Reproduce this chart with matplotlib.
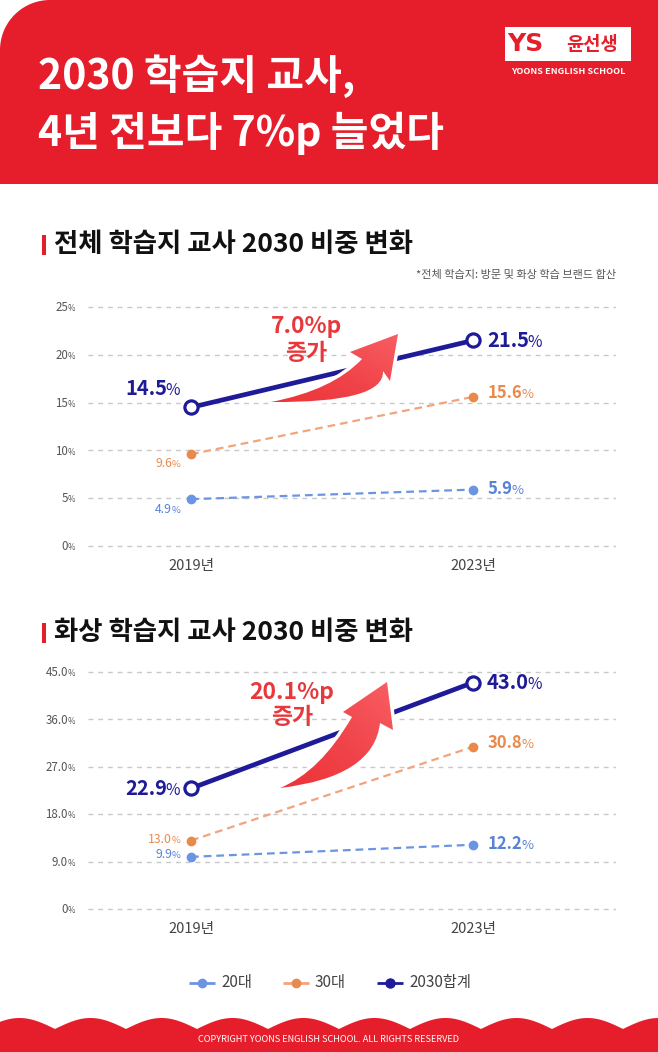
import matplotlib
matplotlib.use('Agg')
import matplotlib.pyplot as plt
import numpy as np
from matplotlib.path import Path
from matplotlib.patches import PathPatch, Rectangle
from matplotlib.colors import LinearSegmentedColormap

plt.rcParams['font.family'] = ['Noto Sans CJK KR', 'DejaVu Sans']

# ---------------- data ----------------
years = ['2019년', '2023년']
series_names = ['20대', '30대', '2030합계']

total_20s = [4.9, 5.9]
total_30s = [9.6, 15.6]
total_sum = [14.5, 21.5]
total_ticks = [0, 5, 10, 15, 20, 25]
total_tick_labels = ['0', '5', '10', '15', '20', '25']
total_increase = '7.0%p'

online_20s = [9.9, 12.2]
online_30s = [13.0, 30.8]
online_sum = [22.9, 43.0]
online_ticks = [0, 9, 18, 27, 36, 45]
online_tick_labels = ['0', '9.0', '18.0', '27.0', '36.0', '45.0']
online_increase = '20.1%p'

title_lines = ['2030 학습지 교사,', '4년 전보다 7%p 늘었다']
chart_titles = ['전체 학습지 교사 2030 비중 변화', '화상 학습지 교사 2030 비중 변화']
note = '*전체 학습지: 방문 및 화상 학습 브랜드 합산'

# ---------------- styles ----------------
RED = '#E61E2B'
NAVY = '#1F1B98'
ORANGE = '#F2A47C'
ORANGE_T = '#E98A4C'
BLUE = '#6B95E2'
BLUE_T = '#5682D8'
GRID = '#C9C9C9'
TICK = '#555555'

W, H = 658, 1052
fig = plt.figure(figsize=(W / 100, H / 100), dpi=100)
fig.patch.set_facecolor('white')


def px_axes(x0, y0, x1, y1):
    return fig.add_axes([x0 / W, 1 - y1 / H, (x1 - x0) / W, (y1 - y0) / H])


X0, X1 = 191, 473      # pixel x of the two categories
GX0, GX1 = 88, 616     # gridline extent
unit = X1 - X0
PAD = 6                # extra pixels around plot box so edge gridlines are not clipped


def make_chart(top, bottom, ticks, s20, s30, ssum):
    ax = px_axes(GX0, top - PAD, GX1, bottom + PAD)
    ax.set_xlim(-(X0 - GX0) / unit, 1 + (GX1 - X1) / unit)
    per_px = (ticks[-1] - ticks[0]) / (bottom - top)
    ax.set_ylim(ticks[0] - PAD * per_px, ticks[-1] + PAD * per_px)
    ax.set_yticks(ticks)
    ax.set_xticks([])
    ax.tick_params(left=False, labelleft=False)
    for s in ax.spines.values():
        s.set_visible(False)
    ax.patch.set_alpha(0)
    ax.yaxis.grid(True, color=GRID, lw=1.0, ls=(0, (3.5, 3.5)))
    ax.set_axisbelow(True)
    xs = [0, 1]
    ax.plot(xs, s20, color=BLUE, lw=1.6, ls=(0, (3.5, 2.2)), marker='o', ms=6,
            mfc=BLUE, mec=BLUE, clip_on=False, zorder=3)
    ax.plot(xs, s30, color=ORANGE, lw=1.6, ls=(0, (3.5, 2.2)), marker='o', ms=6,
            mfc=ORANGE_T, mec=ORANGE_T, clip_on=False, zorder=3)
    ax.plot(xs, ssum, color=NAVY, lw=3.4, marker='o', ms=9.5, mfc='white',
            mec=NAVY, mew=2.3, clip_on=False, zorder=4, solid_capstyle='butt')
    return ax


ax1 = make_chart(307, 546, total_ticks, total_20s, total_30s, total_sum)
ax2 = make_chart(672, 909, online_ticks, online_20s, online_30s, online_sum)

ov = fig.add_axes([0, 0, 1, 1])
ov.set_xlim(0, W)
ov.set_ylim(H, 0)
ov.set_autoscale_on(False)
ov.axis('off')
ov.set_zorder(10)
ov.patch.set_alpha(0)

renderer = fig.canvas.get_renderer()


def to_px(ax, x, y):
    d = ax.transData.transform((x, y))
    return ov.transData.inverted().transform(d)


def pct_label(x, yc, num, size, color, ha='left', pct_size=None, weight='bold',
              pct_weight='normal', gap=-1.5):
    if pct_size is None:
        pct_size = size * 0.78
    yb = yc + 0.36 * size * 100 / 72
    if ha == 'left':
        t = ov.text(x, yb, num, ha='left', va='baseline', fontsize=size,
                    color=color, fontweight=weight)
        w = t.get_window_extent(renderer).width
        ov.text(x + w + gap, yb, '%', ha='left', va='baseline', fontsize=pct_size,
                color=color, fontweight=pct_weight)
    else:
        t = ov.text(x, yb, '%', ha='right', va='baseline', fontsize=pct_size,
                    color=color, fontweight=pct_weight)
        w = t.get_window_extent(renderer).width
        ov.text(x - w - gap, yb, num, ha='right', va='baseline', fontsize=size,
                color=color, fontweight=weight)


# ---------------- header ----------------
R = 50
theta = np.linspace(np.pi, 1.5 * np.pi, 30)
arc = np.column_stack([R + R * np.cos(theta), R + R * np.sin(theta)])
hdr = np.vstack([[[0, 184]], arc, [[W, 0], [W, 184], [0, 184]]])
ov.add_patch(PathPatch(Path(hdr), facecolor=RED, edgecolor='none', zorder=1))

ov.text(38, 89, title_lines[0], color='white', fontsize=29.5, fontweight='black',
        ha='left', va='baseline', zorder=3)
ov.text(38, 146, title_lines[1], color='white', fontsize=29.5, fontweight='black',
        ha='left', va='baseline', zorder=3)

# logo
ov.add_patch(Rectangle((505, 27), 126, 34, facecolor='white', edgecolor='none', zorder=2))
ov.text(507, 44, 'YS', color=RED, fontsize=18, fontweight='bold', ha='left',
        va='center', family=['DejaVu Sans'], zorder=3)
ov.text(592, 44, '윤선생', color=RED, fontsize=13.5, fontweight='bold', ha='center',
        va='center', zorder=3)
ov.text(568, 71, 'YOONS ENGLISH SCHOOL', color='white', fontsize=6.6,
        fontweight='bold', ha='center', va='center', zorder=3)

# ---------------- section titles ----------------
for (yc, txt) in [(245, chart_titles[0]), (633, chart_titles[1])]:
    ov.add_patch(Rectangle((42, yc - 10), 4, 20, facecolor=RED, edgecolor='none'))
    ov.text(54, yc, txt, color='#111111', fontsize=19, fontweight='black',
            ha='left', va='center')

ov.text(616, 275, note, color='#555555', fontsize=8, ha='right', va='center')

# ---------------- tick labels ----------------
for ax, ticks, labels in [(ax1, total_ticks, total_tick_labels),
                          (ax2, online_ticks, online_tick_labels)]:
    for t, lab in zip(ticks, labels):
        _, yp = to_px(ax, 0, t)
        pct_label(75, yp, lab, 8.3, TICK, ha='right', pct_size=5.8,
                  weight='normal', gap=-0.5)
    for i, yr in enumerate(years):
        xp, yp = to_px(ax, i, ticks[0])
        ov.text(xp, yp + 20, yr, color='#444444', fontsize=10.5, ha='center',
                va='center')


# ---------------- data labels ----------------
def data_labels(ax, s20, s30, ssum, big_off, small_off):
    x0, y = to_px(ax, 0, ssum[0])
    pct_label(x0 - 11, y + big_off, f'{ssum[0]:.1f}', 14.5, NAVY, ha='right')
    x1, y = to_px(ax, 1, ssum[1])
    pct_label(x1 + 14, y - 1, f'{ssum[1]:.1f}', 14.5, NAVY)
    x1, y = to_px(ax, 1, s30[1])
    pct_label(x1 + 15, y - 5, f'{s30[1]:.1f}', 12, ORANGE_T)
    x1, y = to_px(ax, 1, s20[1])
    pct_label(x1 + 15, y - 2, f'{s20[1]:.1f}', 12, BLUE_T)
    x0, y = to_px(ax, 0, s30[0])
    pct_label(x0 - 11, y + small_off[0], f'{s30[0]:.1f}', 8.8, ORANGE_T, ha='right',
              weight='normal', gap=-0.8)
    x0, y = to_px(ax, 0, s20[0])
    pct_label(x0 - 11, y + small_off[1], f'{s20[0]:.1f}', 8.8, BLUE_T, ha='right',
              weight='normal', gap=-0.8)


data_labels(ax1, total_20s, total_30s, total_sum, -20, (8, 9))
data_labels(ax2, online_20s, online_30s, online_sum, -1, (-2, -3))

# ---------------- swoosh arrows ----------------
cmap = LinearSegmentedColormap.from_list('sw', ['#EC3338', '#F0444A', '#F85E62'])


def swoosh(T, C_low, RN, HR, TIP, HL, LN, C_up):
    verts = [T, C_low, RN, HR, TIP, HL, LN, C_up, T]
    codes = [Path.MOVETO, Path.CURVE3, Path.CURVE3, Path.LINETO, Path.LINETO,
             Path.LINETO, Path.LINETO, Path.CURVE3, Path.CURVE3]
    path = Path(verts, codes)
    edge = PathPatch(path, facecolor='white', edgecolor='white', lw=5,
                     joinstyle='round', zorder=5)
    ov.add_patch(edge)
    fill = PathPatch(path, facecolor='none', edgecolor='none', zorder=6)
    ov.add_patch(fill)
    xs = [v[0] for v in verts]
    ys = [v[1] for v in verts]
    gx, gy = np.meshgrid(np.linspace(0, 1, 64), np.linspace(0, 1, 64))
    grad = (gx + (1 - gy)) / 2
    im = ov.imshow(grad, extent=(min(xs), max(xs), max(ys), min(ys)), cmap=cmap,
                   aspect='auto', origin='upper', zorder=6, interpolation='bilinear')
    im.set_clip_path(fill)


swoosh(T=(271, 402), C_low=(385, 403), RN=(383, 371), HR=(390, 381),
       TIP=(398, 334), HL=(350, 352), LN=(362, 359), C_up=(333, 390))
swoosh(T=(280, 788), C_low=(374, 777), RN=(380, 723), HR=(393, 730),
       TIP=(387, 682), HL=(343, 712), LN=(352, 717), C_up=(320, 772))
ov.set_xlim(0, W)
ov.set_ylim(H, 0)

for (xc, y1, y2, txt) in [(306, 327, 353, total_increase), (292, 692, 718, online_increase)]:
    ov.text(xc, y1, txt, color='#E8383D', fontsize=16.5, fontweight='black',
            ha='center', va='center', zorder=7)
    ov.text(xc, y2, '증가', color='#E8383D', fontsize=16.5, fontweight='black',
            ha='center', va='center', zorder=7)

# ---------------- legend ----------------
leg_y = 983
for (xm, name, col, mfc, ms) in [(202, series_names[0], BLUE, BLUE, 6),
                                 (296, series_names[1], ORANGE, ORANGE_T, 6),
                                 (390, series_names[2], NAVY, NAVY, 6.5)]:
    ov.plot([xm - 13, xm + 13], [leg_y, leg_y], color=col, lw=2, solid_capstyle='butt')
    ov.plot([xm], [leg_y], marker='o', ms=ms, color=mfc, ls='none')
    ov.text(xm + 19, leg_y, name, color='#444444', fontsize=11, ha='left',
            va='center')

# ---------------- footer wave ----------------
xw = np.linspace(0, W, 1200)
yw = 1029 - 11 * np.abs(np.sin(np.pi * (xw + 16) / 71))
ov.fill_between(xw, yw, H + 2, color=RED, lw=0, zorder=1)
ov.text(W / 2, 1040, 'COPYRIGHT YOONS ENGLISH SCHOOL. ALL RIGHTS RESERVED',
        color='white', fontsize=6.6, ha='center', va='center', zorder=3)

fig.savefig('out.png', dpi=100, facecolor='white')
